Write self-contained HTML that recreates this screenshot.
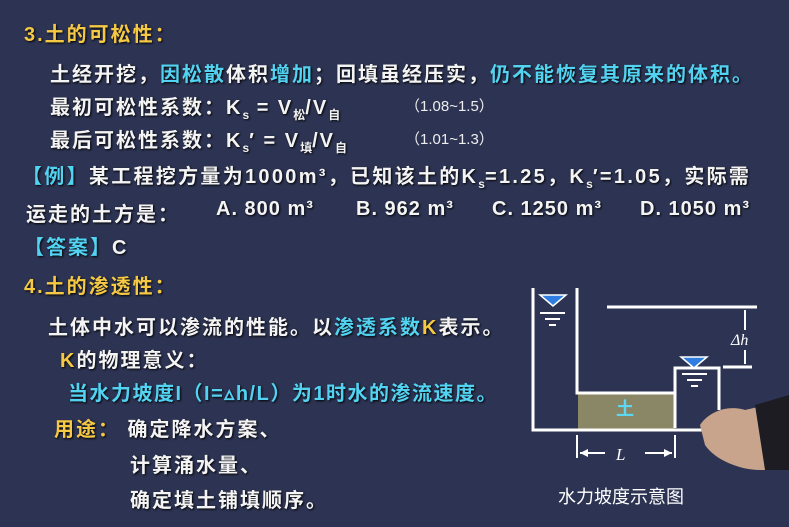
<!DOCTYPE html>
<html><head><meta charset="utf-8"><style>
body{margin:0;width:789px;height:527px;overflow:hidden;background:#2d3453;font-family:"Liberation Sans","Noto Sans CJK SC",sans-serif;}
.t{position:absolute;white-space:nowrap;font-size:20px;font-weight:bold;letter-spacing:2px;color:#f4f4f4;text-shadow:1px 1px 2px #000;}
.y{color:#f6c945}.c{color:#52d3f2}
sub{font-size:12px;letter-spacing:0}
.p{position:absolute;font-size:15px;color:#eee;white-space:nowrap}
</style></head><body>
<div class="t y" style="left:24px;top:18px">3.土的可松性：</div>
<div class="t" style="left:50px;top:58px">土经开挖，<span class="c">因松散</span>体积<span class="c">增加</span>；回填虽经压实，<span class="c">仍不能恢复其原来的体积。</span></div>
<div class="t" style="left:50px;top:91px">最初可松性系数：K<sub>s</sub> = V<sub>松</sub>/V<sub>自</sub></div>
<div class="p" style="left:405px;top:95px">（1.08~1.5）</div>
<div class="t" style="left:50px;top:124px">最后可松性系数：K<sub>s</sub>′ = V<sub>填</sub>/V<sub>自</sub></div>
<div class="p" style="left:405px;top:128px">（1.01~1.3）</div>
<div class="t" style="left:22px;top:160px;letter-spacing:2.3px"><span class="c">【例】</span>某工程挖方量为1000m³，已知该土的K<sub>s</sub>=1.25，K<sub>s</sub>′=1.05，实际需</div>
<div class="t" style="left:26px;top:198px">运走的土方是：</div>
<div class="t" style="left:216px;top:198px;letter-spacing:1px">A. 800 m³</div>
<div class="t" style="left:356px;top:198px;letter-spacing:1px">B. 962 m³</div>
<div class="t" style="left:492px;top:198px;letter-spacing:1px">C. 1250 m³</div>
<div class="t" style="left:640px;top:198px;letter-spacing:1px">D. 1050 m³</div>
<div class="t" style="left:24px;top:231px"><span class="c">【答案】</span>C</div>
<div class="t y" style="left:24px;top:270px">4.土的渗透性：</div>
<div class="t" style="left:48px;top:311px">土体中水可以渗流的性能。以<span class="c">渗透系数</span><span class="y">K</span>表示。</div>
<div class="t" style="left:60px;top:344px"><span class="y">K</span>的物理意义：</div>
<div class="t c" style="left:68px;top:377px;letter-spacing:1.5px">当水力坡度I（I=▵h/L）为1时水的渗流速度。</div>
<div class="t" style="left:54px;top:413px"><span class="y">用途：</span> 确定降水方案、</div>
<div class="t" style="left:130px;top:449px">计算涌水量、</div>
<div class="t" style="left:130px;top:484px">确定填土铺填顺序。</div>
<svg style="position:absolute;left:0;top:0" width="789" height="527">
<g stroke="#fff" stroke-width="3" fill="none">
<rect x="578" y="393" width="97" height="36" fill="#8a8766" stroke="none"/>
<polyline points="533,288 533,430 705,430"/>
<polyline points="577,288 577,393 675,393"/>
<polyline points="675,428 675,368 719,368 719,410"/>
<line x1="607" y1="307" x2="757" y2="307"/>
<line x1="723" y1="367" x2="752" y2="367"/>
<line x1="745" y1="310" x2="745" y2="364" stroke-width="2"/>
<line x1="577" y1="435" x2="577" y2="458" stroke-width="2"/>
<line x1="675" y1="435" x2="675" y2="458" stroke-width="2"/>
<line x1="580" y1="453" x2="605" y2="453" stroke-width="2"/>
<line x1="645" y1="453" x2="672" y2="453" stroke-width="2"/>
<line x1="540" y1="313" x2="565" y2="313" stroke-width="2"/>
<line x1="545" y1="319" x2="560" y2="319" stroke-width="2"/>
<line x1="549" y1="325" x2="556" y2="325" stroke-width="2"/>
<line x1="682" y1="374" x2="707" y2="374" stroke-width="2"/>
<line x1="687" y1="380" x2="702" y2="380" stroke-width="2"/>
<line x1="691" y1="386" x2="698" y2="386" stroke-width="2"/>
</g>
<polygon points="540,295 566,295 553,306" fill="#2f7de0" stroke="#fff" stroke-width="1.5"/>
<polygon points="681,357 707,357 694,368" fill="#2f7de0" stroke="#fff" stroke-width="1.5"/>
<polygon points="580,453 588,449 588,457" fill="#fff"/>
<polygon points="672,453 664,449 664,457" fill="#fff"/>
<rect x="729" y="330" width="26" height="20" fill="#2d3453"/>
<text x="616" y="415" font-size="18" fill="#5cd8f5" font-family="Noto Sans CJK SC" font-weight="bold">土</text>
<text x="616" y="460" font-size="17" fill="#fff" font-style="italic" font-family="Liberation Serif">L</text>
<text x="731" y="345" font-size="16" fill="#fff" font-style="italic" font-family="Liberation Serif">Δh</text>
<text x="558" y="503" font-size="18" fill="#fff" font-family="Noto Sans CJK SC">水力坡度示意图</text>
<path d="M700,425 C710,410 730,405 745,410 L789,400 L789,470 L760,470 C740,470 715,460 705,445 Z" fill="#c9a48c"/>
<path d="M755,405 L789,395 L789,470 L765,470 Z" fill="#1c1c22"/>
</svg>
</body></html>
